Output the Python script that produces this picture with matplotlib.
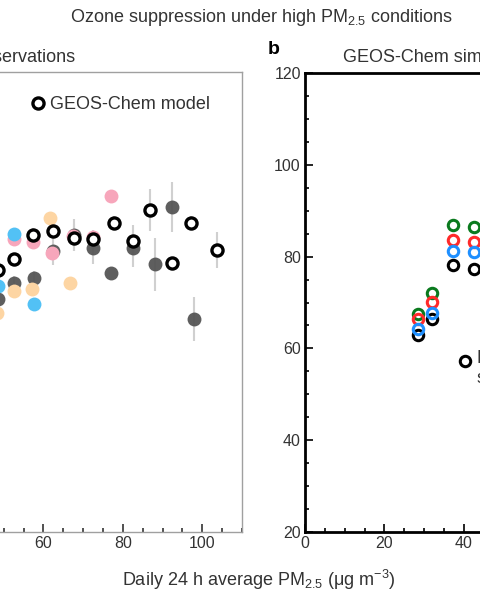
import matplotlib
matplotlib.use("Agg")
import matplotlib.pyplot as plt
from matplotlib.ticker import MultipleLocator, FuncFormatter

plt.rcParams['font.family'] = ['Liberation Sans', 'DejaVu Sans']
plt.rcParams['mathtext.fontset'] = 'custom'
plt.rcParams['mathtext.rm'] = 'Liberation Sans'

TXT = '#333333'

# ---------------- Panel a: observations (binned by PM2.5) ----------------
dark_x = [48.5, 52.5, 57.6, 62.4, 67.6, 72.6, 77.1, 82.6, 88.0, 92.4, 98.0]
dark_y = [70.6, 74.1, 75.2, 81.0, 84.6, 81.7, 76.2, 81.7, 78.2, 90.7, 66.3]
dark_err = [0, 1.5, 1.5, 3.0, 3.5, 3.5, 0, 4.0, 5.8, 5.4, 4.8]

pink_x = [52.5, 57.5, 62.2, 67.4, 72.4, 77.1]
pink_y = [83.6, 83.1, 80.7, 84.3, 84.1, 93.0]

blue_x = [48.5, 52.7, 57.6]
blue_y = [73.4, 84.8, 69.5]

peach_x = [48.3, 52.5, 57.2, 61.6, 66.6]
peach_y = [67.6, 72.3, 72.8, 88.2, 74.2]

model_x = [48.5, 52.5, 57.3, 62.3, 67.6, 72.4, 77.9, 82.6, 86.9, 92.4, 97.2, 103.7]
model_y = [77.0, 79.3, 84.6, 85.5, 84.0, 83.6, 87.2, 83.2, 90.0, 78.5, 87.2, 81.3]
model_err = [0, 0, 1.5, 1.5, 3.0, 2.0, 1.5, 3.5, 4.5, 0, 1.5, 4.0]

# ---------------- Panel b: GEOS-Chem simulations ----------------
sim_x = [28.5, 31.9, 37.2, 42.6]
sim_black = [62.9, 66.3, 78.2, 77.3]
sim_blue = [64.2, 67.7, 81.3, 80.9]
sim_red = [66.3, 70.1, 83.6, 83.2]
sim_green = [67.6, 72.0, 86.9, 86.5]

fig = plt.figure(figsize=(4.8, 6.0), dpi=100)
W, H = 480.0, 600.0

def fpos(x0, y0, x1, y1):
    return [x0 / W, 1 - y1 / H, (x1 - x0) / W, (y1 - y0) / H]

# left axes: right spine at 242 px, x range 0-110 (left part lies outside the crop)
axa = fig.add_axes(fpos(-195, 72, 242, 532))
# right axes: left spine at 305 px (right part lies outside the crop)
axb = fig.add_axes(fpos(305, 73, 742, 532))

for ax in (axa, axb):
    ax.set_xlim(0, 110)
    ax.set_ylim(20, 120)
    ax.xaxis.set_major_locator(MultipleLocator(20))
    ax.xaxis.set_minor_locator(MultipleLocator(5))
    ax.yaxis.set_major_locator(MultipleLocator(20))
    ax.yaxis.set_minor_locator(MultipleLocator(5))
    ax.tick_params(which='major', direction='in', length=6, width=1.2,
                   labelsize=11.5, labelcolor=TXT, pad=3)
    ax.tick_params(which='minor', direction='in', length=3, width=1.2)

def vis_fmt(lo, hi):
    return FuncFormatter(lambda v, p: f'{v:.0f}' if lo <= v <= hi else '')

axa.xaxis.set_major_formatter(vis_fmt(60, 100))
axa.tick_params(axis='y', labelleft=False)
axb.xaxis.set_major_formatter(vis_fmt(0, 40))

# panel a styling
for s in axa.spines.values():
    s.set_color('#a0a0a0')
    s.set_linewidth(1.0)
axa.tick_params(which='both', color='#333333')

errc = '#d0d0d0'
axa.errorbar(dark_x, dark_y, yerr=dark_err, fmt='none', ecolor=errc,
             elinewidth=1.5, capsize=0, zorder=1)
axa.errorbar(model_x, model_y, yerr=model_err, fmt='none', ecolor=errc,
             elinewidth=1.5, capsize=0, zorder=1)
axa.plot(dark_x, dark_y, 'o', ms=10, color='#555555', mec='none', alpha=0.95, zorder=2)
axa.plot(pink_x, pink_y, 'o', ms=10, color='#f7a6bb', mec='none', zorder=3)
axa.plot(blue_x, blue_y, 'o', ms=10, color='#52c1f5', mec='none', zorder=4)
axa.plot(peach_x, peach_y, 'o', ms=10, color='#fdd5a3', mec='none', zorder=4)
axa.plot(model_x, model_y, 'o', ms=8, mfc='white', mec='black', mew=2.4, zorder=5,
         label='GEOS-Chem model')
axa.legend(loc='upper left', bbox_to_anchor=((22 + 195) / 437.0, 1 - (89 - 72) / 460.0),
           frameon=False, fontsize=13, handletextpad=0.15, borderaxespad=0,
           handlelength=1.0, labelcolor=TXT)

# panel b styling
for s in axb.spines.values():
    s.set_color('black')
    s.set_linewidth(2.0)
mk = dict(ls='none', marker='o', ms=7.5, mfc='none', mew=2.2)
axb.plot(sim_x, sim_black, mec='black', zorder=3, **mk)
axb.plot(sim_x, sim_blue, mec='#1e8fff', zorder=4, **mk)
axb.plot(sim_x, sim_red, mec='#ff2a2a', zorder=3, **mk)
axb.plot(sim_x, sim_green, mec='#0a7a1e', zorder=2, **mk)
# legend entry inside panel b
axb.plot([40.2], [57.2], **dict(mk, mec='black'))
axb.text(43.2, 59.6, 'Base\nsimulation', fontsize=13, color=TXT, va='top',
         linespacing=1.2)

# titles
fig.text(261 / W, 1 - 18 / H, r'Ozone suppression under high PM$_{2.5}$ conditions',
         ha='center', va='center', fontsize=13, color=TXT)
fig.text(75 / W, 1 - 57 / H, 'Surface observations', ha='right', va='center',
         fontsize=13, color=TXT)
fig.text(268 / W, 1 - 50 / H, 'b', ha='left', va='center', fontsize=14,
         fontweight='bold', color='black')
fig.text(343 / W, 1 - 57 / H, 'GEOS-Chem simulations', ha='left', va='center',
         fontsize=13, color=TXT)
fig.text(259 / W, 1 - 580 / H, r'Daily 24 h average PM$_{2.5}$ (μg m$^{-3}$)',
         ha='center', va='center', fontsize=13, color=TXT)

fig.savefig('out.png', dpi=100)
